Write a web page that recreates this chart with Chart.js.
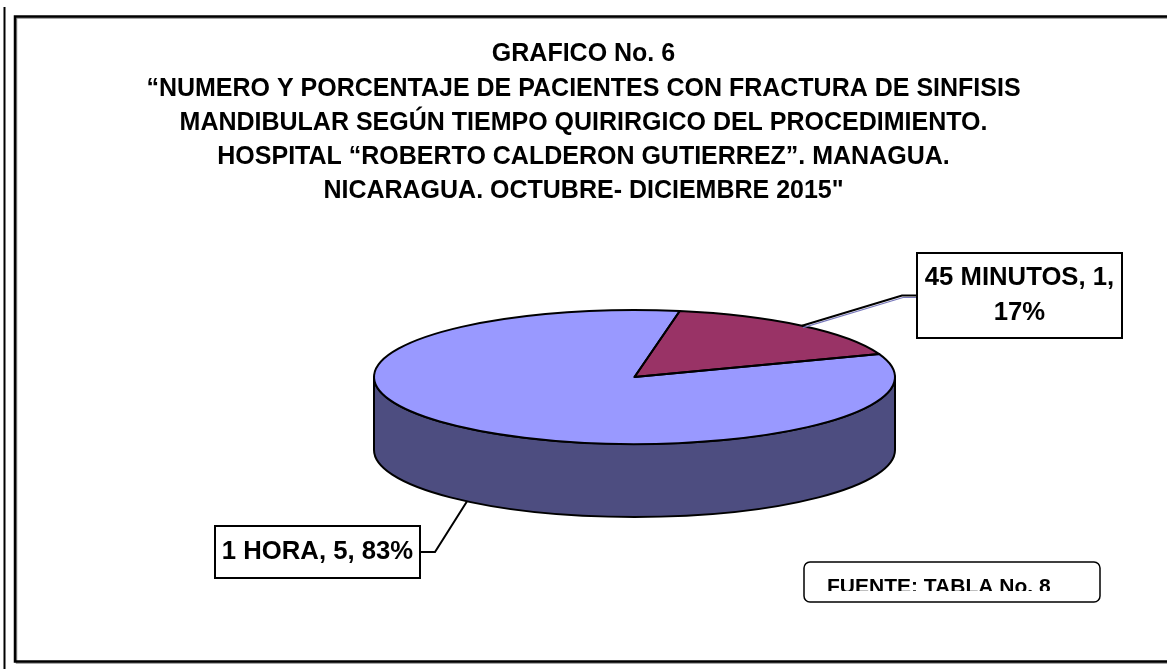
<!DOCTYPE html>
<html><head><meta charset="utf-8">
<script src="https://cdn.jsdelivr.net/npm/chart.js@4.4.1/dist/chart.umd.min.js"></script>
<style>html,body{margin:0;padding:0;background:#fff;overflow:hidden}canvas{display:block}</style>
</head><body>
<canvas id="c" width="1167" height="669"></canvas>
<script>
// ---- data ----
const categories = ['1 HORA', '45 MINUTOS'];
const patientCounts = [5, 1];
const titleLines = [
  'GRAFICO No. 6',
  '\u201CNUMERO Y PORCENTAJE DE PACIENTES CON FRACTURA DE SINFISIS',
  'MANDIBULAR SEG\u00DAN TIEMPO QUIRIRGICO DEL PROCEDIMIENTO.',
  'HOSPITAL \u201CROBERTO CALDERON GUTIERREZ\u201D. MANAGUA.',
  'NICARAGUA. OCTUBRE- DICIEMBRE 2015"'
];
const sourceNote = 'FUENTE: TABLA No. 8';

// ---- styles / layout ----
const topColors = ['#9999FF', '#993366'];
const sideColors = ['#4D4D80', '#4D1A33'];
const FONT = "'Liberation Sans', Arial, Helvetica, sans-serif";
const PIE = {cx: 634.5, cy: 377, rx: 260.5, ry: 67, depth: 73};
const LABEL_BOXES = [
  {x: 215, y: 526, w: 205, h: 52, side: 'right', elbow: 15},
  {x: 917, y: 253, w: 205, h: 85, side: 'left', elbow: 15}
];
const LABEL_LINE_H = 34.6;
const LABEL_FONT_SIZE = 25.7;
const SOURCE_BOX = {x: 804, y: 562, w: 296, h: 40, r: 6, textX: 827, baseline: 593, clipBottom: 591};

const pie3d = {
  id: 'pie3d',
  beforeDraw(chart) {
    const ctx = chart.ctx;
    ctx.save();
    ctx.fillStyle = '#fff';
    ctx.fillRect(0, 0, chart.width, chart.height);
    ctx.strokeStyle = '#000';
    ctx.lineWidth = 2;
    ctx.beginPath(); ctx.moveTo(4.5, 7); ctx.lineTo(4.5, chart.height); ctx.stroke();
    ctx.strokeStyle = '#8a8a8a'; ctx.lineWidth = 1.5;
    ctx.strokeRect(16.5, 18, 1200, 645);
    ctx.strokeStyle = '#000'; ctx.lineWidth = 2.5;
    ctx.strokeRect(15, 16.5, 1200, 645);
    ctx.restore();
  },
  beforeDatasetsDraw(chart) {
    const ctx = chart.ctx;
    const arcs = chart.getDatasetMeta(0).data;
    const {cx, cy, rx, ry, depth} = PIE;
    const TAU = Math.PI * 2;
    ctx.save();
    ctx.lineWidth = 2; ctx.strokeStyle = '#000'; ctx.lineJoin = 'round';
    arcs.forEach((arc, i) => {
      const s = ((arc.startAngle % TAU) + TAU) % TAU;
      const e = s + (arc.endAngle - arc.startAngle);
      [[0, Math.PI], [TAU, TAU + Math.PI]].forEach(([lo, hi]) => {
        const a0 = Math.max(s, lo), a1 = Math.min(e, hi);
        if (a1 > a0) {
          ctx.beginPath();
          ctx.ellipse(cx, cy, rx, ry, 0, a0, a1);
          ctx.ellipse(cx, cy + depth, rx, ry, 0, a1, a0, true);
          ctx.closePath();
          ctx.fillStyle = sideColors[i];
          ctx.fill(); ctx.stroke();
        }
      });
    });
    ctx.restore();
    const a = arcs[0];
    ctx.save();
    ctx.translate(cx, cy);
    ctx.scale(rx / a.outerRadius, ry / a.outerRadius);
    ctx.translate(-a.x, -a.y);
  },
  afterDatasetsDraw(chart) {
    const ctx = chart.ctx;
    ctx.restore();
    const arcs = chart.getDatasetMeta(0).data;
    const {cx, cy, rx, ry} = PIE;
    ctx.save();
    ctx.lineWidth = 2; ctx.strokeStyle = '#000'; ctx.lineJoin = 'round';
    arcs.forEach(arc => {
      ctx.beginPath();
      ctx.moveTo(cx, cy);
      ctx.ellipse(cx, cy, rx, ry, 0, arc.startAngle, arc.endAngle);
      ctx.closePath();
      ctx.stroke();
    });
    ctx.restore();
  },
  afterDraw(chart) {
    const ctx = chart.ctx;
    const arcs = chart.getDatasetMeta(0).data;
    const total = patientCounts.reduce((p, v) => p + v, 0);
    ctx.save();
    arcs.forEach((arc, i) => {
      const box = LABEL_BOXES[i];
      const mid = (arc.startAngle + arc.endAngle) / 2;
      const px = PIE.cx + PIE.rx * Math.cos(mid);
      let py = PIE.cy + PIE.ry * Math.sin(mid);
      if (Math.sin(mid) > 0) py += PIE.depth;
      const ay = box.y + box.h / 2;
      const ax = box.side === 'left' ? box.x : box.x + box.w;
      const ex = box.side === 'left' ? ax - box.elbow : ax + box.elbow;
      if (Math.sin(mid) < 0) {
        ctx.strokeStyle = '#7777bb'; ctx.lineWidth = 1.2;
        ctx.beginPath(); ctx.moveTo(px + 1, py + 2); ctx.lineTo(ex + 1, ay + 2); ctx.lineTo(ax, ay + 2); ctx.stroke();
      }
      ctx.strokeStyle = '#000'; ctx.lineWidth = 2; ctx.lineJoin = 'miter';
      ctx.beginPath(); ctx.moveTo(px, py); ctx.lineTo(ex, ay); ctx.lineTo(ax, ay); ctx.stroke();
      ctx.fillStyle = '#fff';
      ctx.fillRect(box.x, box.y, box.w, box.h);
      ctx.strokeRect(box.x, box.y, box.w, box.h);
      const text = categories[i] + ', ' + patientCounts[i] + ', ' + Math.round(patientCounts[i] / total * 100) + '%';
      ctx.font = 'bold ' + LABEL_FONT_SIZE + 'px ' + FONT;
      const words = text.split(' ');
      const lines = [];
      let cur = '';
      words.forEach(w => {
        const t = cur ? cur + ' ' + w : w;
        if (ctx.measureText(t).width > box.w - 8 && cur) { lines.push(cur); cur = w; } else cur = t;
      });
      lines.push(cur);
      ctx.fillStyle = '#000'; ctx.textAlign = 'center'; ctx.textBaseline = 'middle';
      lines.forEach((l, k) => {
        ctx.fillText(l, box.x + box.w / 2, ay + (k - (lines.length - 1) / 2) * LABEL_LINE_H);
      });
    });
    // source note box
    const sb = SOURCE_BOX;
    ctx.lineWidth = 1.5; ctx.strokeStyle = '#000'; ctx.fillStyle = '#fff';
    ctx.beginPath(); ctx.roundRect(sb.x, sb.y, sb.w, sb.h, sb.r); ctx.fill(); ctx.stroke();
    ctx.save();
    ctx.beginPath(); ctx.rect(sb.x, sb.y, sb.w, sb.clipBottom - sb.y); ctx.clip();
    ctx.font = 'bold 21px ' + FONT; ctx.fillStyle = '#000';
    ctx.textAlign = 'left'; ctx.textBaseline = 'alphabetic';
    ctx.fillText(sourceNote, sb.textX, sb.baseline);
    ctx.restore();
    ctx.restore();
  }
};

new Chart(document.getElementById('c'), {
  type: 'pie',
  data: {
    labels: categories,
    datasets: [{
      data: patientCounts,
      backgroundColor: topColors,
      borderWidth: 0,
      hoverOffset: 0,
      clip: false
    }]
  },
  options: {
    responsive: false,
    animation: false,
    events: [],
    rotation: 70,
    layout: {padding: 0},
    plugins: {
      legend: {display: false},
      tooltip: {enabled: false},
      title: {
        display: true,
        text: titleLines,
        color: '#000',
        font: {family: FONT, size: 25, weight: 'bold', lineHeight: 1.368},
        padding: {top: 37.5, bottom: 0}
      }
    }
  },
  plugins: [pie3d]
});
</script>
</body></html>
